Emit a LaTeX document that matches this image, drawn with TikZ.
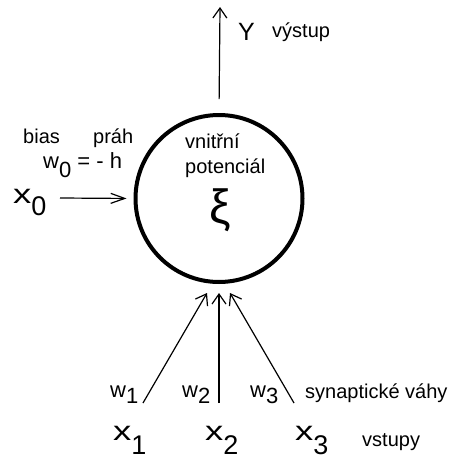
\documentclass[tikz,border=0pt]{standalone}
\usepackage{fontspec}
\setmainfont{Liberation Sans}
\usepackage{graphicx}
\usetikzlibrary{arrows.meta}

\newcommand{\fs}[1]{\fontsize{#1}{#1}\selectfont}
\newcommand{\wide}[1]{\scalebox{1.35}[1]{#1}}

\begin{document}
\begin{tikzpicture}[
x=1pt,y=-1pt,
->,
>={Straight Barb[length=10pt,width=14pt]},
every node/.style={inner sep=0pt},
wire/.style={line width=1.2pt},
small/.style={font=\fs{20},anchor=base west},
wlab/.style={font=\fs{22},anchor=base west},
xlab/.style={font=\fs{27},anchor=base west},
neuron/.style={circle,draw,line width=4pt,minimum size=167pt}
]
\useasboundingbox (0,0) rectangle (451,461);

\node[neuron] (n) at (219,198.5) {};
\node[font=\fs{48}] (xi) at (220,210) {ξ};
\node[small] (vn) at (185,148) {vnitřní};
\node[small] (pot) at (185,173) {potenciál};

% output
\coordinate (out) at (220,7);
\node[font=\fs{25},anchor=base west] (y) at (238,40) {Y};
\node[small] (vys) at (272,37) {výstup};
\draw[wire,shorten <=14pt] (n.north) -- (out);

% bias
\node[small] (bias) at (23,143) {bias};
\node[small] (prah) at (93,143) {práh};
\node[wlab] (w0) at (43,168) {w\raisebox{-9pt}{0} = - h};
\node[xlab] (x0) at (13,203) {\wide{x}\raisebox{-12pt}{0}};
\coordinate (a0) at (60,198);
\draw[wire,>={Straight Barb[length=14pt,width=10pt]},shorten >=7pt] (a0) -- (n.west);

% inputs
\coordinate (s1) at (143,403);
\coordinate (s2) at (219,403);
\coordinate (s3) at (294,403);
\coordinate (t1) at (207,293);
\coordinate (t2) at (219,293);
\coordinate (t3) at (230,293);
\path[wire]
(s1) edge (t1)
(s2) edge (t2)
(s3) edge (t3);

\node[wlab] (w1) at (110,397) {w\raisebox{-6pt}{1}};
\node[wlab] (w2) at (182,397) {w\raisebox{-6pt}{2}};
\node[wlab] (w3) at (250,397) {w\raisebox{-6pt}{3}};
\node[small] (syn) at (305,398) {synaptické váhy};

\node[xlab] (x1) at (113,440) {\wide{x}\raisebox{-14pt}{1}};
\node[xlab] (x2) at (205,440) {\wide{x}\raisebox{-14pt}{2}};
\node[xlab] (x3) at (295,440) {\wide{x}\raisebox{-14pt}{3}};
\node[small] (vst) at (362,446) {vstupy};

\end{tikzpicture}
\end{document}
